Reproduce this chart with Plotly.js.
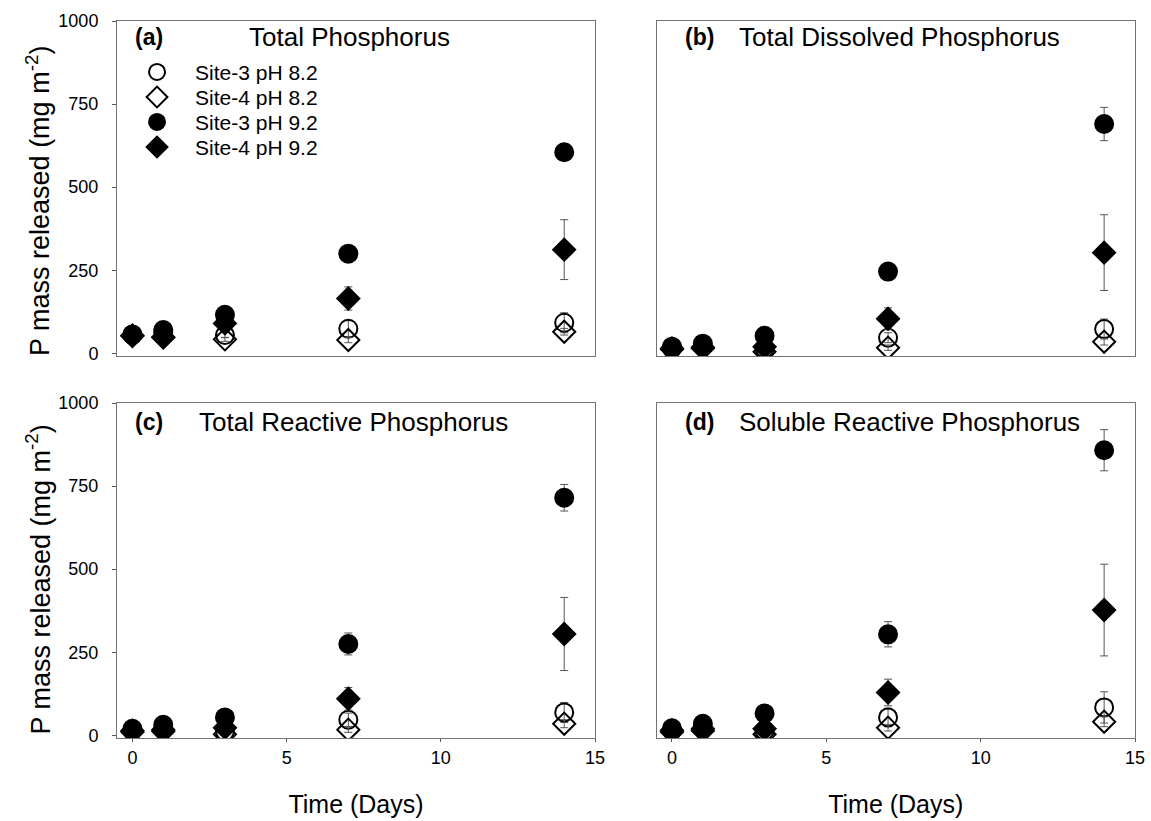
<!DOCTYPE html>
<html>
<head>
<meta charset="utf-8">
<script src="https://cdn.plot.ly/plotly-3.0.1.min.js"></script>
<style>html,body{margin:0;padding:0;background:#fff;}#chart{width:1151px;height:821px;}</style>
</head>
<body>
<div id="chart"></div>
<script>
// Time axis (days)
const days = [0, 1, 3, 7, 14];
const seriesNames = ["Site-3 pH 8.2", "Site-4 pH 8.2", "Site-3 pH 9.2", "Site-4 pH 9.2"];
const panelTitles = ["Total Phosphorus", "Total Dissolved Phosphorus", "Total Reactive Phosphorus", "Soluble Reactive Phosphorus"];
const panelLetters = ["(a)", "(b)", "(c)", "(d)"];
const yTitle = "P mass released (mg m<sup>-2</sup>)";
const xTitle = "Time (Days)";
const yTickVals = [0, 250, 500, 750, 1000];
const xTickVals = [0, 5, 10, 15];

// (a) Total Phosphorus
const tp_s3_82 = [55, 62, 55, 74, 92];   const tp_s3_82_err = [5, 5, 8, 24, 30];
const tp_s4_82 = [52, 48, 42, 40, 65];   const tp_s4_82_err = [5, 5, 6, 8, 10];
const tp_s3_92 = [57, 70, 116, 300, 605]; const tp_s3_92_err = [5, 8, 10, 12, 15];
const tp_s4_92 = [54, 48, 90, 165, 312];  const tp_s4_92_err = [5, 5, 10, 35, 90];

// (b) Total Dissolved Phosphorus
const tdp_s3_82 = [15, 22, 15, 47, 73];   const tdp_s3_82_err = [3, 4, 5, 15, 30];
const tdp_s4_82 = [12, 15, 5, 17, 35];    const tdp_s4_82_err = [3, 3, 3, 8, 10];
const tdp_s3_92 = [20, 29, 53, 246, 690]; const tdp_s3_92_err = [4, 5, 8, 25, 50];
const tdp_s4_92 = [15, 18, 20, 104, 303]; const tdp_s4_92_err = [3, 4, 5, 33, 114];

// (c) Total Reactive Phosphorus
const trp_s3_82 = [15, 20, 12, 47, 69];   const trp_s3_82_err = [3, 4, 4, 20, 30];
const trp_s4_82 = [10, 12, 3, 17, 35];    const trp_s4_82_err = [3, 3, 3, 8, 12];
const trp_s3_92 = [20, 32, 54, 275, 715]; const trp_s3_92_err = [4, 5, 8, 33, 40];
const trp_s4_92 = [14, 17, 23, 110, 305]; const trp_s4_92_err = [3, 4, 5, 34, 110];

// (d) Soluble Reactive Phosphorus
const srp_s3_82 = [15, 22, 14, 54, 84];   const srp_s3_82_err = [3, 4, 5, 28, 47];
const srp_s4_82 = [10, 14, 3, 23, 41];    const srp_s4_82_err = [3, 3, 3, 10, 15];
const srp_s3_92 = [21, 35, 66, 304, 858]; const srp_s3_92_err = [4, 6, 8, 38, 62];
const srp_s4_92 = [15, 20, 20, 129, 377]; const srp_s4_92_err = [3, 4, 5, 40, 138];

const panels = [
  {xa: 'x',  ya: 'y',  vals: [tp_s3_82, tp_s4_82, tp_s3_92, tp_s4_92],     errs: [tp_s3_82_err, tp_s4_82_err, tp_s3_92_err, tp_s4_92_err]},
  {xa: 'x2', ya: 'y2', vals: [tdp_s3_82, tdp_s4_82, tdp_s3_92, tdp_s4_92], errs: [tdp_s3_82_err, tdp_s4_82_err, tdp_s3_92_err, tdp_s4_92_err]},
  {xa: 'x3', ya: 'y3', vals: [trp_s3_82, trp_s4_82, trp_s3_92, trp_s4_92], errs: [trp_s3_82_err, trp_s4_82_err, trp_s3_92_err, trp_s4_92_err]},
  {xa: 'x4', ya: 'y4', vals: [srp_s3_82, srp_s4_82, srp_s3_92, srp_s4_92], errs: [srp_s3_82_err, srp_s4_82_err, srp_s3_92_err, srp_s4_92_err]}
];

const symbols = ['circle-open', 'diamond-open', 'circle', 'diamond'];
const sizes = [18, 17, 18, 17];

const traces = [];
panels.forEach((p, pi) => {
  p.vals.forEach((v, si) => {
    traces.push({
      type: 'scatter', mode: 'markers',
      x: days, y: v,
      xaxis: p.xa, yaxis: p.ya,
      name: seriesNames[si],
      showlegend: pi === 0,
      marker: {symbol: symbols[si], size: sizes[si], color: '#000', line: {color: '#000', width: 2}},
      error_y: {type: 'data', array: p.errs[si], visible: true, color: '#555', thickness: 1, width: 4},
      hoverinfo: 'x+y+name'
    });
  });
});

const fontFam = '"Liberation Sans", Arial, sans-serif';
const axLine = '#737373';
function xax(domain, bottom) {
  const a = {
    domain: domain, range: [-0.5, 15], showline: true, mirror: true, linecolor: axLine, linewidth: 1,
    showgrid: false, zeroline: false,
    ticks: bottom ? 'outside' : '', ticklen: 3, tickcolor: '#555',
    tickvals: xTickVals, showticklabels: bottom,
    tickfont: {size: 18, color: '#000', family: fontFam}
  };
  if (bottom) a.title = {text: xTitle, font: {size: 25, color: '#000', family: fontFam}, standoff: 28};
  return a;
}
function yax(domain, left, anchor) {
  return {
    domain: domain, range: [-8, 1000], showline: true, mirror: true, linecolor: axLine, linewidth: 1,
    showgrid: false, zeroline: false, anchor: anchor,
    ticks: left ? 'outside' : '', ticklen: 4, tickcolor: '#555',
    tickvals: yTickVals, showticklabels: left, ticklabelstandoff: 10,
    tickfont: {size: 18, color: '#000', family: fontFam}
  };
}

const xL = [0, 0.4696], xR = [0.530, 1];
const yT = [0.5328, 1], yB = [0, 0.4672];

const annPos = [
  {lx: 0.0157, tx: 0.1277, y: 0.9777},
  {lx: 0.556,  tx: 0.609,  y: 0.9777},
  {lx: 0.0157, tx: 0.0786, y: 0.4407},
  {lx: 0.556,  tx: 0.609,  y: 0.4407}
];
const annotations = [];
annPos.forEach((a, i) => {
  annotations.push({xref: 'paper', yref: 'paper', x: a.lx, y: a.y, xanchor: 'left', yanchor: 'middle', showarrow: false,
    text: '<b>' + panelLetters[i] + '</b>', font: {size: 23, color: '#000', family: fontFam}});
  annotations.push({xref: 'paper', yref: 'paper', x: a.tx, y: a.y, xanchor: 'left', yanchor: 'middle', showarrow: false,
    text: panelTitles[i], font: {size: 26, color: '#000', family: fontFam}});
});
// y-axis titles for the left column (top and bottom rows)
[0.749, 0.221].forEach(yc => {
  annotations.push({xref: 'paper', yref: 'paper', x: -0.0776, y: yc, xanchor: 'center', yanchor: 'middle', showarrow: false,
    textangle: -90, text: yTitle, font: {size: 27, color: '#000', family: fontFam}});
});

const layout = {
  width: 1151, height: 821,
  margin: {l: 117, r: 16, t: 21, b: 83},
  paper_bgcolor: '#fff', plot_bgcolor: '#fff',
  font: {family: fontFam, color: '#000'},
  showlegend: true,
  legend: {x: 0.002, y: 0.957, xanchor: 'left', yanchor: 'top', bgcolor: 'rgba(0,0,0,0)', borderwidth: 0,
    font: {size: 21, color: '#000', family: fontFam}, itemwidth: 66, tracegroupgap: 0},
  xaxis: Object.assign(xax(xL, false), {anchor: 'y'}),
  xaxis2: Object.assign(xax(xR, false), {anchor: 'y2'}),
  xaxis3: Object.assign(xax(xL, true), {anchor: 'y3'}),
  xaxis4: Object.assign(xax(xR, true), {anchor: 'y4'}),
  yaxis: yax(yT, true, 'x'),
  yaxis2: yax(yT, false, 'x2'),
  yaxis3: yax(yB, true, 'x3'),
  yaxis4: yax(yB, false, 'x4'),
  annotations: annotations
};

Plotly.newPlot('chart', traces, layout, {displayModeBar: false, staticPlot: true}).then(gd => {
  // tighten legend row spacing to match the reference (25 px per row)
  const items = gd.querySelectorAll('.legend .traces');
  let y0 = null;
  items.forEach((el, i) => {
    const t = el.getAttribute('transform') || '';
    const m = t.match(/translate\(\s*([-\d.]+)[ ,]+([-\d.]+)\s*\)/);
    if (!m) return;
    const x = parseFloat(m[1]);
    if (y0 === null) y0 = parseFloat(m[2]);
    el.setAttribute('transform', 'translate(' + x + ',' + (y0 + i * 25) + ')');
  });
});
</script>
</body>
</html>
